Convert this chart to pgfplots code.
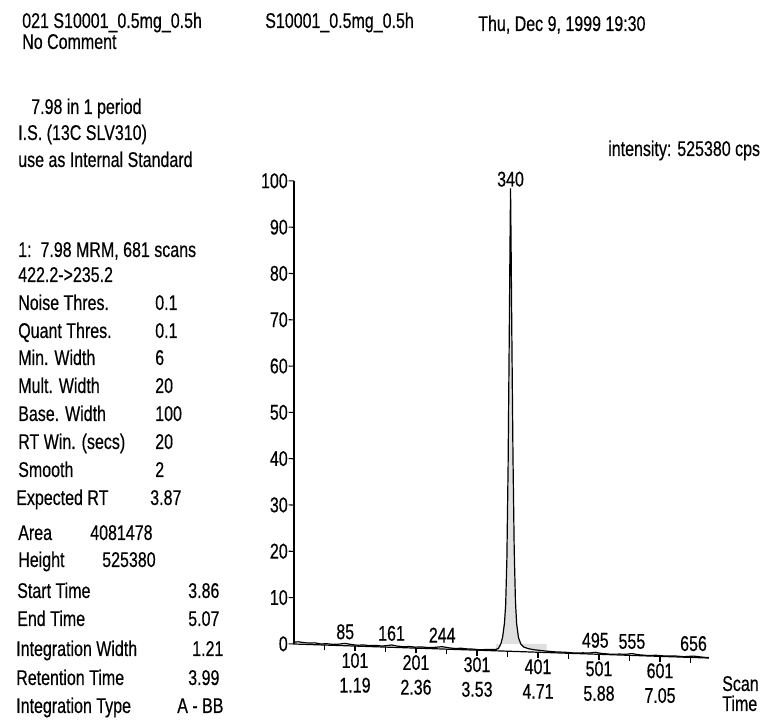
\documentclass[border=0pt]{standalone}
\usepackage{fontspec}
\setmainfont[FakeStretch=0.75,FakeBold=0.4]{Liberation Sans}
\usepackage{pgfplots}
\pgfplotsset{compat=1.18}
\newcommand{\tf}{\fontsize{16}{18.5}\selectfont}
\begin{document}
\begin{tikzpicture}[font=\tf]
\begin{axis}[
  x={(0.4575pt,-0.01545pt)}, y={(0pt,3.4725pt)},
  xmin=1, xmax=681, ymin=0, ymax=100,
  axis x line*=bottom, axis y line*=left,
  axis line style={black, line width=0.9pt, -},
  clip=false,
  xtick={101,201,301,401,501,601},
  xticklabels={{101\\1.19},{201\\2.36},{301\\3.53},{401\\4.71},{501\\5.88},{601\\7.05}},
  minor xtick={51,151,251,351,451,551,651},
  ytick={0,10,...,100},
  tick align=outside,
  major tick length=4pt, minor tick length=4pt,
  tick style={black, line width=0.8pt},
  x tick label style={align=center, font=\tf, inner sep=1pt, anchor=north},
  y tick label style={font=\tf, inner sep=0.5pt, anchor=east},
  /pgf/number format/assume math mode=true,
]
\addplot[fill=gray!25, draw=none] coordinates {
(332,0.3)(336,0.5)(340,1.5)(343,3)(346,6)(348,10)(350,20)(352,40)(354,70)(355,86)(356,100)(357,86)(358,70)(360,42)(362,22)(364,11)(366,6)(369,3)(373,1.6)(378,1.0)(385,0.7)(395,0.5)(405,0.4)(415,0.3)
} \closedcycle;
\addplot[black, line width=0.9pt] coordinates {
(1,0.4)(8,0.5)(15,0.4)(25,0.3)(35,0.4)(45,0.2)(55,0.3)(65,0.2)(75,0.3)(85,0.5)(95,0.3)(105,0.2)(115,0.3)(125,0.2)(135,0.3)(145,0.2)(152,0.3)(161,0.5)(170,0.3)(180,0.2)(190,0.3)(200,0.2)(210,0.3)(220,0.2)(232,0.3)(244,0.5)(255,0.3)(265,0.2)(275,0.3)(285,0.2)(295,0.2)(305,0.1)(315,0.2)(332,0.3)(336,0.5)(340,1.5)(343,3)(346,6)(348,10)(350,20)(352,40)(354,70)(355,86)(356,100)(357,86)(358,70)(360,42)(362,22)(364,11)(366,6)(369,3)(373,1.6)(378,1.0)(385,0.7)(395,0.5)(405,0.4)(415,0.3)(430,0.2)(445,0.2)(460,0.1)(475,0.2)(485,0.2)(495,0.4)(505,0.2)(520,0.1)(535,0.2)(545,0.2)(555,0.4)(565,0.2)(580,0.1)(595,0.2)(610,0.1)(625,0.2)(640,0.1)(656,0.3)(665,0.2)(675,0.1)(681,0.1)
};
\node[inner sep=1pt, anchor=south] at (axis cs:356,100) {340};
\node at (axis cs:85,3) {85};
\node at (axis cs:161,3) {161};
\node at (axis cs:244,3) {244};
\node at (axis cs:495,3) {495};
\node at (axis cs:555,3) {555};
\node at (axis cs:656,3) {656};
\coordinate (O) at (axis cs:1,0);
\end{axis}
\begin{scope}[shift={(O)}]
\begin{scope}[x=0.75pt, y=-0.75pt, shift={(-294,-644)}]
\tikzset{every node/.style={anchor=base west, inner sep=0pt}}
\node at (22,28) {021 S10001\_0.5mg\_0.5h};
\node at (22,49) {No Comment};
\node at (265,28) {S10001\_0.5mg\_0.5h};
\node at (478,31) {Thu, Dec 9, 1999 19:30};
\node at (31,114) {7.98 in 1 period};
\node at (18,140) {I.S. (13C SLV310)};
\node at (18,167) {use as Internal Standard};
\node at (18,257) {1:\ \ 7.98 MRM, 681 scans};
\node at (18,282) {422.2->235.2};
\node at (18,310) {Noise Thres.};      \node at (155,310) {0.1};
\node at (18,338) {Quant Thres.};      \node at (155,338) {0.1};
\node at (18,365) {Min. Width};        \node at (155,365) {6};
\node at (18,393) {Mult. Width};       \node at (155,393) {20};
\node at (18,421) {Base. Width};       \node at (155,421) {100};
\node at (18,449) {RT Win. (secs)};    \node at (155,449) {20};
\node at (18,477) {Smooth};            \node at (155,477) {2};
\node at (16,505) {Expected RT};       \node at (150,505) {3.87};
\node at (18,540) {Area};              \node at (90,540) {4081478};
\node at (18,567) {Height};            \node at (102,567) {525380};
\node at (17,598) {Start Time};        \node at (188,598) {3.86};
\node at (17,626) {End Time};          \node at (188,626) {5.07};
\node at (16,656) {Integration Width}; \node at (192,656) {1.21};
\node at (16,685) {Retention Time};    \node at (188,685) {3.99};
\node at (16,713) {Integration Type};  \node at (177,713) {A - BB};
\node at (608,156) {intensity: 525380 cps};
\node at (722,691) {Scan};
\node at (722,711) {Time};
\pgfresetboundingbox
\path[use as bounding box] (0,0) rectangle (776,720);
\end{scope}
\end{scope}
\end{tikzpicture}
\end{document}
